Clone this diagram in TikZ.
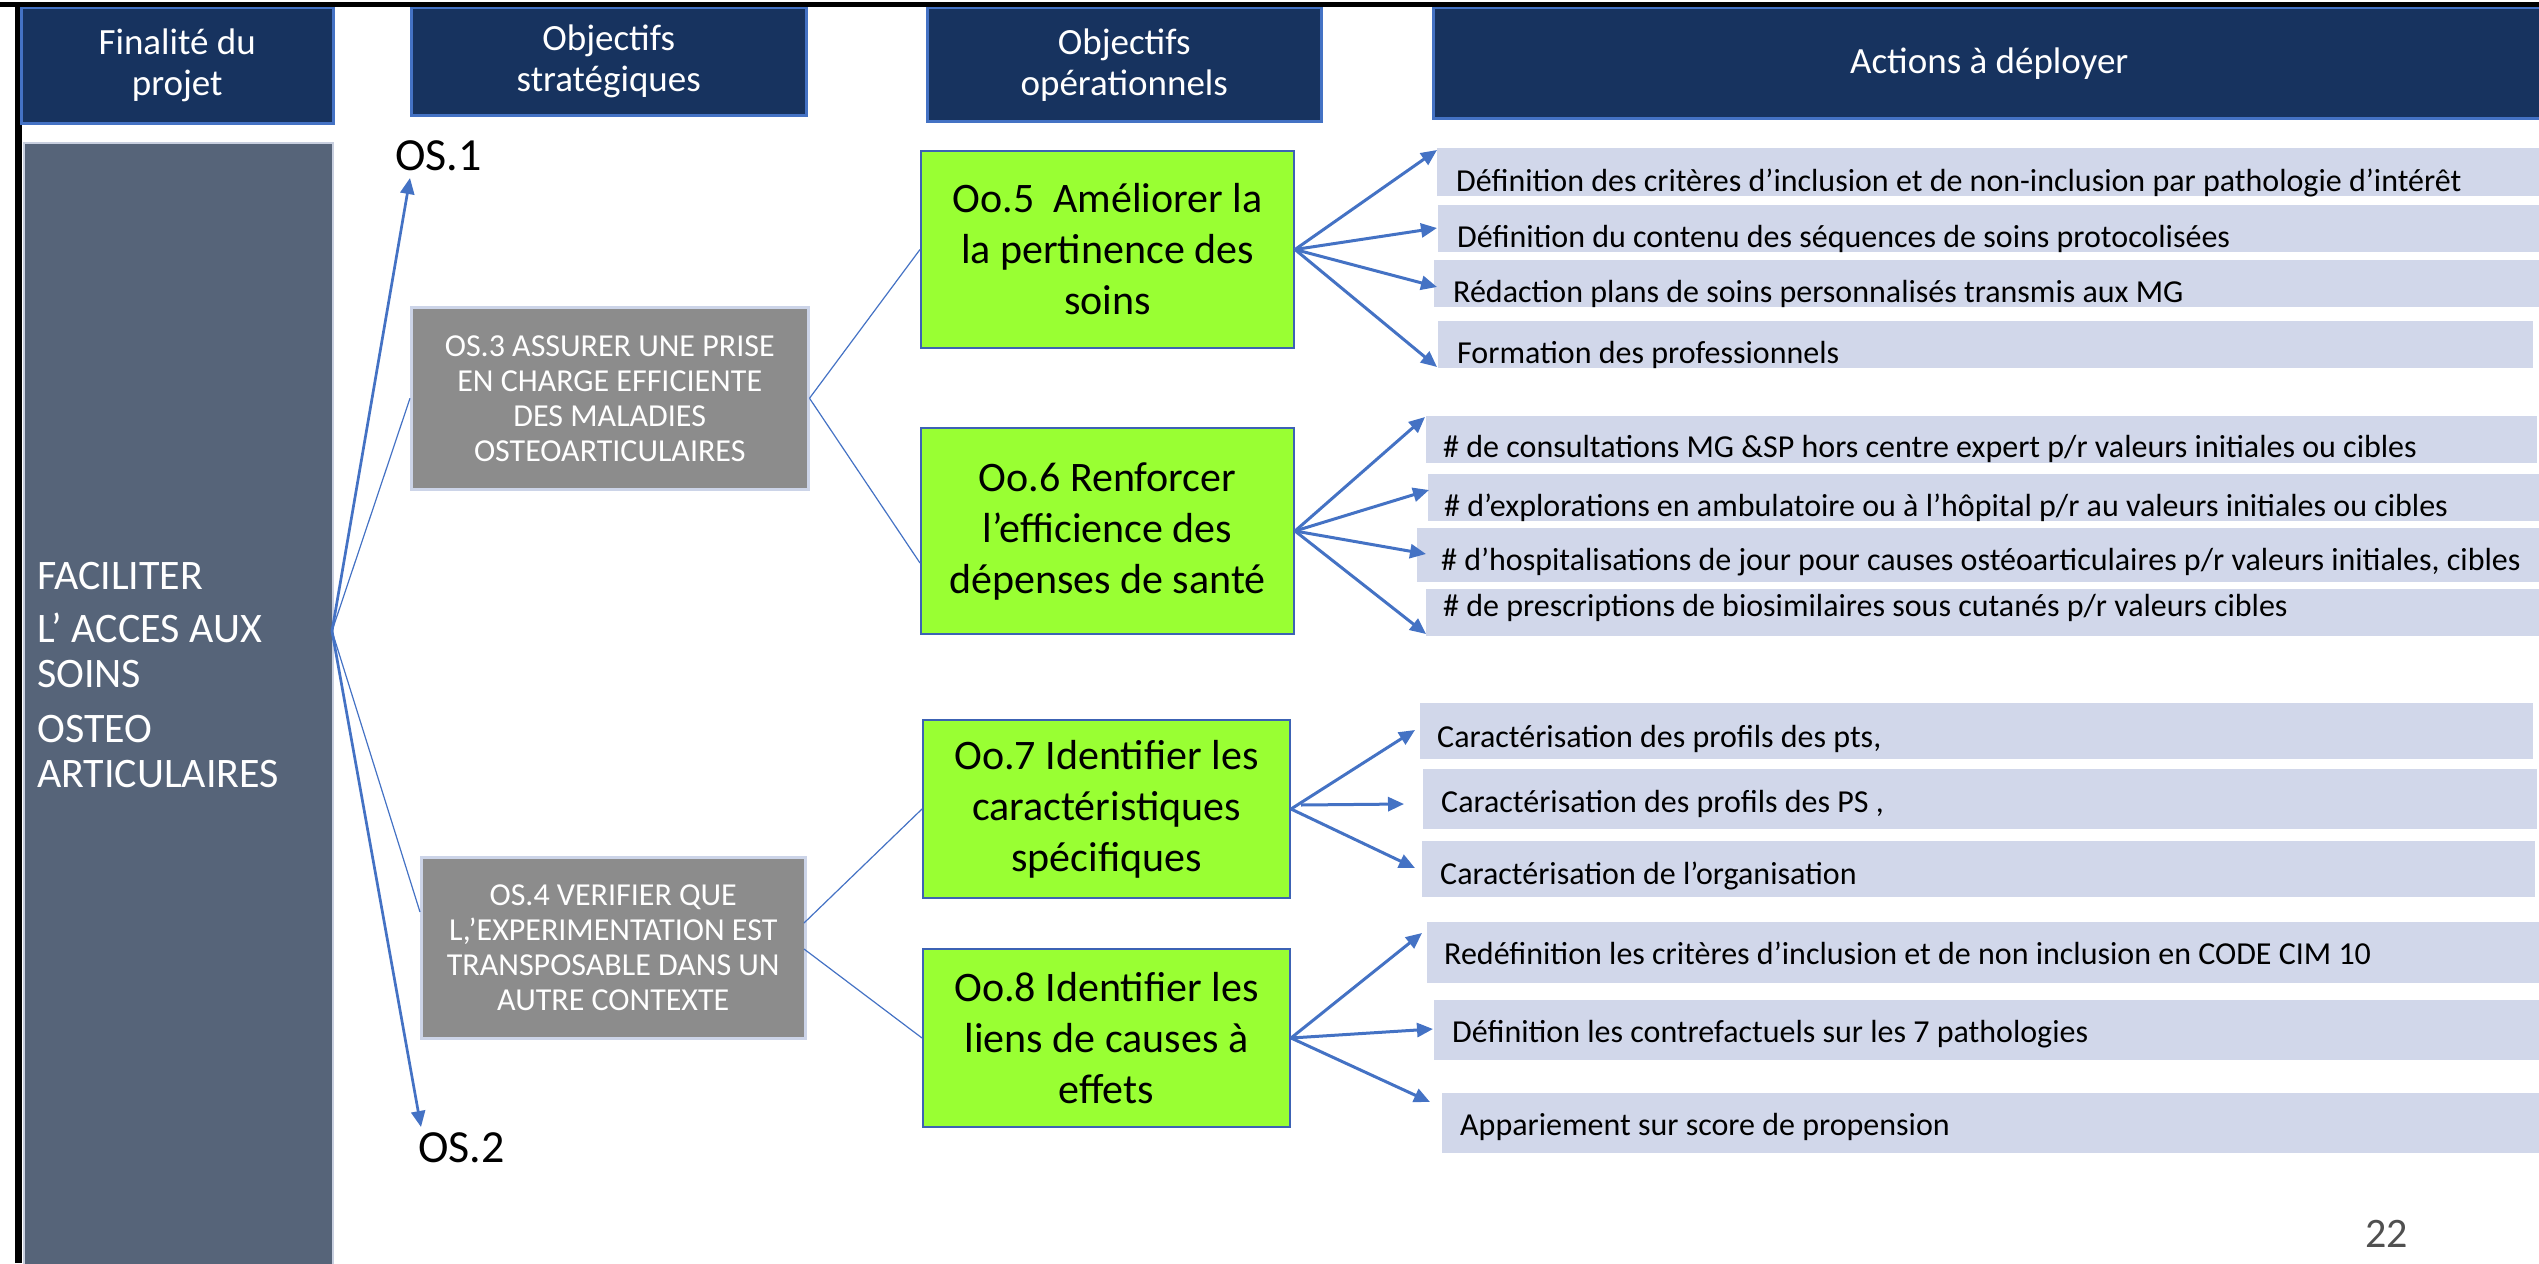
\documentclass[tikz,border=0pt]{standalone}
\usepackage{fontspec}
\setmainfont{Carlito}
\usetikzlibrary{arrows.meta}
\definecolor{hdr}{HTML}{17335F}
\definecolor{hdrb}{HTML}{4472C4}
\definecolor{slate}{HTML}{566479}
\definecolor{slateb}{HTML}{C8CFDF}
\definecolor{greybox}{HTML}{8C8C8C}
\definecolor{greybd}{HTML}{CCD4E8}
\definecolor{grn}{HTML}{99FF33}
\definecolor{grnb}{HTML}{3C62B4}
\definecolor{act}{HTML}{D1D7EA}
\definecolor{arr}{HTML}{4472C4}
\definecolor{pgc}{HTML}{505050}
\newcommand\fsz[2]{\fontsize{#1}{#2}\selectfont}
\tikzset{
  hdrbox/.style={draw=hdrb, line width=2.5pt, fill=hdr, text=white, align=center, inner sep=0pt, anchor=north west, font={\fsz{37}{41}}},
  slatebox/.style={draw=slateb, line width=1.5pt, fill=slate, inner sep=0pt, anchor=north west},
  fintext/.style={text=white, inner sep=0pt, anchor=base west, font={\fsz{42}{45}}},
  oslabel/.style={text=black, inner sep=0pt, anchor=base west, font={\fsz{46}{50}}},
  osbox/.style={draw=greybd, line width=2.5pt, fill=greybox, text=white, align=center, inner sep=0pt, anchor=north west, font={\fsz{32}{35}}},
  oobox/.style={draw=grnb, line width=2pt, fill=grn, text=black, align=center, inner sep=0pt, anchor=north west, font={\fsz{42}{51}}},
  abox/.style={fill=act, draw=none, inner sep=0pt, anchor=north west},
  atext/.style={text=black, inner sep=0pt, anchor=base west, font={\fsz{32}{36}}},
  osarrow/.style={draw=arr, line width=2.7pt, -{Triangle[length=16pt,width=14pt]}},
  thinline/.style={draw=arr, line width=1.2pt},
  actarrow/.style={draw=arr, line width=3pt, -{Triangle[length=16pt,width=14pt]}},
  pagenum/.style={text=pgc, inner sep=0pt, anchor=base west, font={\fsz{42}{46}}}
}
\newcommand\actbox[8]{%
  \node[abox, minimum width={(#4-#2)*1pt}, minimum height={(#5-#3)*1pt}] (#1) at (#2,#3) {};
  \node[atext] (#1t) at (#6,#7) {#8};}
\begin{document}
\begin{tikzpicture}[x=1pt,y=-1pt]
\useasboundingbox (0,0) rectangle (2539,1263);
% frame lines
\draw[line width=5pt] (0,4.5) -- (2539,4.5);
\draw[line width=7pt] (18,4.5) -- (18,1263);
% headers
\node[hdrbox, minimum width=312pt, minimum height=115pt] (hF) at (20,7) {Finalité du\\projet};
\node[hdrbox, minimum width=395pt, minimum height=107pt] (hS) at (410,7) {Objectifs\\stratégiques};
\node[hdrbox, minimum width=394pt, minimum height=113pt] (hO) at (926,7) {Objectifs\\opérationnels};
\node[hdrbox, minimum width=1112pt, minimum height=110pt] (hA) at (1432,7) {Actions à déployer};
% finalité column
\node[slatebox, minimum width=309pt, minimum height=1125pt] (fin) at (23,142) {};
\node[fintext] (fin1) at (37,589) {FACILITER};
\node[fintext] (fin2) at (37,642) {L’ ACCES AUX};
\node[fintext] (fin3) at (37,687) {SOINS};
\node[fintext] (fin4) at (37,742) {OSTEO};
\node[fintext] (fin5) at (37,787) {ARTICULAIRES};
% strategic objectives
\node[oslabel] (os1) at (395,170) {OS.1};
\node[oslabel] (os2) at (418,1162) {OS.2};
\node[osbox, minimum width=397pt, minimum height=182pt] (os3) at (410,306) {OS.3 ASSURER UNE PRISE\\EN CHARGE EFFICIENTE\\DES MALADIES\\OSTEOARTICULAIRES};
\node[osbox, minimum width=384pt, minimum height=181pt] (os4) at (420,856) {OS.4 VERIFIER QUE\\L,’EXPERIMENTATION EST\\TRANSPOSABLE DANS UN\\AUTRE CONTEXTE};
% operational objectives
\node[oobox, minimum width=373pt, minimum height=197pt] (oo5) at (920,150) {Oo.5\ \ Améliorer la\\la pertinence des\\soins};
\node[oobox, minimum width=373pt, minimum height=206pt] (oo6) at (920,427) {Oo.6 Renforcer\\l’efficience des\\dépenses de santé};
\node[oobox, minimum width=367pt, minimum height=178pt] (oo7) at (922,719) {Oo.7 Identifier les\\caractéristiques\\spécifiques};
\node[oobox, minimum width=367pt, minimum height=178pt] (oo8) at (922,948) {Oo.8 Identifier les\\liens de causes à\\effets};
% actions
\actbox{b1}{1437}{148}{2539}{196}{1456}{191}{Définition des critères d’inclusion et de non-inclusion par pathologie d’intérêt}
\actbox{b2}{1438}{205}{2539}{252}{1457}{247}{Définition du contenu des séquences de soins protocolisées}
\actbox{b3}{1434}{260}{2539}{307}{1453}{302}{Rédaction plans de soins personnalisés transmis aux MG}
\actbox{b4}{1438}{321}{2533}{368}{1457}{363}{Formation des professionnels}
\actbox{b5}{1426}{416}{2537}{463}{1443}{457}{\# de consultations MG \&SP hors centre expert p/r valeurs initiales ou cibles}
\actbox{b6}{1428}{474}{2539}{521}{1444}{516}{\# d’explorations en ambulatoire ou à l’hôpital p/r au valeurs initiales ou cibles}
\actbox{b7}{1417}{528}{2539}{582}{1441}{570}{\# d’hospitalisations de jour pour causes ostéoarticulaires p/r valeurs initiales, cibles}
\actbox{b8}{1426}{589}{2539}{636}{1443}{616}{\# de prescriptions de biosimilaires sous cutanés p/r valeurs cibles}
\actbox{b9}{1420}{703}{2533}{759}{1437}{747}{Caractérisation des profils des pts,}
\actbox{b10}{1423}{769}{2537}{829}{1441}{812}{Caractérisation des profils des PS ,}
\actbox{b11}{1422}{841}{2535}{897}{1440}{884}{Caractérisation de l’organisation}
\actbox{b12}{1427}{922}{2539}{983}{1444}{964}{Redéfinition les critères d’inclusion et de non inclusion en CODE CIM 10}
\actbox{b13}{1434}{1000}{2539}{1060}{1452}{1042}{Définition les contrefactuels sur les 7 pathologies}
\actbox{b14}{1442}{1093}{2539}{1153}{1460}{1135}{Appariement sur score de propension}
% page number
\node[pagenum] (pg) at (2365,1247) {22};
% connector end points
\coordinate (src) at (332,631);
\coordinate (os1tip) at (410,178);
\coordinate (os2tip) at (421,1127);
\coordinate (os4in) at (420,912);
\coordinate (oo6in) at (920,563);
\coordinate (os4outa) at (804,923);
\coordinate (os4outb) at (804,949);
\coordinate (oo7m) at (1301,805);
\coordinate (c1) at (1437,150);
\coordinate (c2) at (1437,228);
\coordinate (c3) at (1437,287);
\coordinate (c4) at (1437,367);
\coordinate (c5) at (1425,417);
\coordinate (c6) at (1429,490);
\coordinate (c7) at (1426,554);
\coordinate (c8) at (1426,634);
\coordinate (c9) at (1415,730);
\coordinate (c10) at (1404,804);
\coordinate (c11) at (1415,868);
\coordinate (c12) at (1422,933);
\coordinate (c13) at (1433,1029);
\coordinate (c14) at (1430,1102);
% connectors
\draw[osarrow] (src) -- (os1tip);
\draw[osarrow] (src) -- (os2tip);
\draw[thinline] (src) -- (os3.west);
\draw[thinline] (src) -- (os4in);
\draw[thinline] (os3.east) -- (oo5.west);
\draw[thinline] (os3.east) -- (oo6in);
\draw[thinline] (os4outa) -- (oo7.west);
\draw[thinline] (os4outb) -- (oo8.west);
\foreach \t in {c1,c2,c3,c4} \draw[actarrow] (oo5.east) -- (\t);
\foreach \t in {c5,c6,c7,c8} \draw[actarrow] (oo6.east) -- (\t);
\draw[actarrow] (oo7.east) -- (c9);
\draw[actarrow] (oo7m) -- (c10);
\draw[actarrow] (oo7.east) -- (c11);
\foreach \t in {c12,c13,c14} \draw[actarrow] (oo8.east) -- (\t);
\end{tikzpicture}
\end{document}
